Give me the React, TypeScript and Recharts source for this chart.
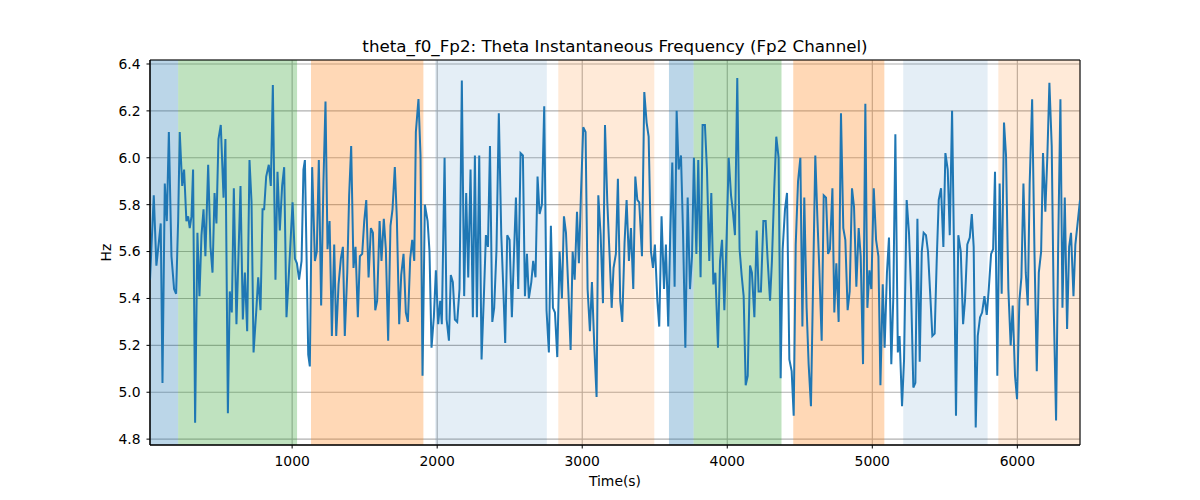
import {
  LineChart,
  Line,
  XAxis,
  YAxis,
  CartesianGrid,
  ReferenceArea,
  Label
} from "recharts";

/* ---------- DATA ---------- */

const TIME_S = [
  20, 46, 64, 81, 94, 106, 122, 136, 150, 168, 186, 200, 214, 225, 242, 255, 271, 283, 294, 306,
  317, 331, 347, 361, 375, 389, 402, 421, 437, 451, 465, 478, 492, 508, 527, 540, 557, 570, 584, 598,
  616, 644, 660, 674, 690, 706, 720, 734, 752, 766, 782, 796, 807, 821, 839, 853, 867, 885, 899, 915,
  931, 945, 961, 977, 1003, 1019, 1033, 1048, 1065, 1078, 1088, 1111, 1122, 1138, 1157, 1170, 1184, 1200, 1216, 1230,
  1244, 1258, 1274, 1290, 1304, 1320, 1336, 1350, 1363, 1380, 1393, 1407, 1423, 1437, 1453, 1467, 1483, 1497, 1511, 1527,
  1543, 1557, 1573, 1586, 1603, 1616, 1632, 1646, 1662, 1678, 1692, 1708, 1722, 1738, 1752, 1768, 1784, 1798, 1814, 1828,
  1842, 1853, 1871, 1885, 1899, 1915, 1934, 1947, 1961, 1977, 1991, 2007, 2021, 2032, 2051, 2065, 2081, 2094, 2108, 2122,
  2138, 2154, 2170, 2186, 2200, 2214, 2230, 2246, 2260, 2274, 2290, 2306, 2322, 2336, 2350, 2364, 2380, 2393, 2409, 2425,
  2442, 2456, 2469, 2483, 2499, 2515, 2529, 2543, 2559, 2575, 2591, 2605, 2619, 2632, 2649, 2662, 2678, 2692, 2706, 2722,
  2738, 2754, 2770, 2784, 2798, 2812, 2828, 2844, 2860, 2874, 2888, 2904, 2920, 2934, 2948, 2964, 2977, 2991, 3007, 3023,
  3037, 3053, 3067, 3083, 3099, 3111, 3127, 3143, 3157, 3173, 3189, 3203, 3216, 3232, 3246, 3262, 3276, 3292, 3306, 3322,
  3336, 3352, 3366, 3380, 3393, 3412, 3428, 3444, 3458, 3474, 3488, 3501, 3518, 3531, 3547, 3564, 3577, 3593, 3607, 3621,
  3637, 3651, 3665, 3681, 3695, 3711, 3727, 3743, 3757, 3770, 3787, 3800, 3816, 3830, 3846, 3860, 3876, 3890, 3904, 3918,
  3936, 3950, 3964, 3980, 3996, 4010, 4026, 4039, 4053, 4069, 4085, 4099, 4113, 4127, 4141, 4157, 4170, 4187, 4203, 4216,
  4232, 4249, 4265, 4278, 4295, 4308, 4324, 4338, 4354, 4368, 4382, 4398, 4412, 4428, 4444, 4458, 4472, 4488, 4504, 4518,
  4531, 4547, 4561, 4577, 4591, 4607, 4621, 4635, 4651, 4665, 4681, 4695, 4708, 4725, 4738, 4752, 4768, 4784, 4800, 4814,
  4830, 4844, 4860, 4874, 4890, 4906, 4920, 4936, 4952, 4966, 4980, 4993, 5010, 5026, 5042, 5056, 5072, 5085, 5101, 5115,
  5131, 5145, 5159, 5176, 5188, 5205, 5219, 5237, 5253, 5267, 5283, 5297, 5311, 5327, 5341, 5354, 5370, 5384, 5400, 5414,
  5430, 5444, 5458, 5474, 5490, 5504, 5520, 5534, 5550, 5564, 5577, 5593, 5610, 5626, 5639, 5655, 5672, 5686, 5699, 5713,
  5727, 5743, 5757, 5773, 5789, 5803, 5819, 5833, 5846, 5862, 5878, 5892, 5908, 5922, 5938, 5954, 5968, 5984, 5998, 6014,
  6028, 6042, 6058, 6072, 6085, 6102, 6118, 6134, 6148, 6164, 6177, 6193, 6207, 6221, 6237, 6251, 6267, 6281, 6297, 6311,
  6327, 6343, 6357, 6370, 6387, 6400, 6417, 6432
];

const THETA_HZ = [
  5.48, 5.84, 5.54, 5.64, 5.72, 5.04, 5.89, 5.73, 6.11, 5.58, 5.44, 5.42, 5.73, 6.11, 5.88, 5.95, 5.73, 5.75, 5.70, 5.75,
  5.95, 4.87, 5.68, 5.41, 5.67, 5.78, 5.58, 5.97, 5.62, 5.51, 5.85, 5.72, 6.08, 6.14, 5.83, 6.08, 4.91, 5.43, 5.34, 5.87,
  5.29, 5.88, 5.31, 5.51, 5.26, 5.99, 5.81, 5.17, 5.34, 5.49, 5.35, 5.78, 5.78, 5.92, 5.97, 5.88, 6.31, 5.48, 5.94, 5.69,
  5.88, 5.96, 5.32, 5.50, 5.81, 5.57, 5.55, 5.48, 5.56, 5.95, 5.99, 5.16, 5.11, 5.96, 5.56, 5.60, 5.99, 5.37, 5.90, 6.24,
  5.61, 5.73, 5.24, 5.63, 5.24, 5.46, 5.57, 5.62, 5.24, 5.51, 5.84, 6.05, 5.53, 5.62, 5.32, 5.58, 5.59, 5.73, 5.82, 5.49,
  5.70, 5.68, 5.35, 5.39, 5.73, 5.56, 5.74, 5.61, 5.22, 5.71, 5.78, 5.96, 5.74, 5.29, 5.50, 5.59, 5.34, 5.30, 5.57, 5.65,
  5.56, 6.11, 6.25, 6.01, 5.07, 5.80, 5.73, 5.60, 5.19, 5.32, 5.52, 5.29, 5.39, 5.29, 6.00, 5.31, 5.22, 5.50, 5.47, 5.31,
  5.30, 5.44, 6.33, 5.41, 5.85, 5.49, 5.95, 5.32, 6.01, 5.32, 6.01, 5.14, 5.41, 5.67, 5.62, 6.05, 5.30, 5.36, 5.61, 6.19,
  5.67, 5.44, 5.21, 5.67, 5.65, 5.32, 5.58, 5.83, 5.44, 6.02, 6.01, 5.41, 5.59, 5.40, 5.47, 5.56, 5.49, 5.92, 5.76, 5.80,
  6.22, 5.35, 5.17, 5.71, 5.36, 5.34, 5.15, 5.60, 5.40, 5.75, 5.68, 5.44, 5.18, 5.60, 5.48, 5.77, 5.55, 5.84, 6.13, 6.11,
  5.44, 5.26, 5.47, 5.20, 4.98, 5.84, 5.67, 5.38, 6.14, 5.81, 5.58, 5.36, 5.53, 5.59, 5.91, 5.39, 5.30, 5.64, 5.82, 5.56,
  5.70, 5.44, 5.92, 5.82, 5.81, 5.58, 6.28, 6.15, 6.09, 5.60, 5.53, 5.63, 5.39, 5.28, 5.75, 5.44, 5.63, 5.28, 5.68, 5.98,
  5.45, 6.20, 5.95, 6.01, 5.68, 5.19, 5.83, 5.44, 5.58, 6.00, 5.59, 5.99, 5.49, 6.14, 6.14, 5.95, 5.56, 5.85, 5.46, 5.51,
  5.19, 5.56, 5.65, 5.35, 5.67, 6.00, 5.84, 5.77, 5.67, 6.34, 5.61, 5.50, 5.41, 5.03, 5.07, 5.54, 5.51, 5.32, 5.69, 5.43,
  5.43, 5.73, 5.73, 5.57, 5.39, 5.56, 5.87, 6.09, 6.00, 5.06, 5.61, 5.78, 5.85, 5.14, 5.09, 4.90, 5.63, 5.90, 6.00, 5.28,
  5.83, 5.36, 5.12, 4.94, 5.44, 6.01, 5.75, 5.52, 5.22, 5.84, 5.83, 5.59, 5.61, 5.87, 5.34, 5.55, 5.30, 6.19, 5.70, 5.65,
  5.35, 5.43, 5.87, 5.79, 5.45, 5.70, 5.58, 5.12, 6.23, 5.36, 5.52, 5.44, 5.87, 5.65, 5.58, 5.03, 5.46, 5.19, 5.51, 5.66,
  5.12, 5.41, 6.10, 5.17, 5.24, 4.94, 5.14, 5.82, 5.68, 5.44, 5.02, 5.04, 5.74, 5.13, 5.60, 5.68, 5.67, 5.60, 5.41, 5.24,
  5.25, 5.56, 5.82, 5.87, 5.62, 6.02, 5.95, 5.67, 6.20, 5.58, 4.90, 5.67, 5.60, 5.29, 5.39, 5.63, 5.66, 5.76, 5.62, 4.85,
  5.24, 5.32, 5.34, 5.41, 5.33, 5.44, 5.59, 5.61, 5.94, 5.07, 5.89, 5.42, 6.15, 6.01, 5.44, 5.20, 5.37, 5.07, 4.97, 5.39,
  5.49, 5.89, 5.51, 5.37, 5.89, 6.25, 5.60, 5.09, 5.51, 5.60, 6.02, 5.77, 6.01, 6.32, 6.05, 5.36, 4.88, 5.60, 6.25, 5.36,
  5.83, 5.27, 5.62, 5.68, 5.41, 5.63, 5.73, 5.82
];

/* ---------- SHADED SEGMENTS ---------- */

const SPAN_START = [20, 214, 1130, 1986, 2835, 3598, 3768, 4455, 5213, 5869];
const SPAN_END = [214, 1034, 1905, 2756, 3497, 3768, 4374, 5083, 5795, 6432];
const SPAN_KIND = ["a", "b", "c", "d", "e", "a", "b", "c", "d", "e"];

const SPAN_STYLE: any = {
  a: { color: "#1f77b4", opacity: 0.3 },
  b: { color: "#2ca02c", opacity: 0.3 },
  c: { color: "#ff7f0e", opacity: 0.3 },
  d: { color: "#1f77b4", opacity: 0.12 },
  e: { color: "#ff7f0e", opacity: 0.16 }
};

/* ---------- AXES ---------- */

const X_MIN = 20;
const X_MAX = 6432;
const Y_MIN = 4.775;
const Y_MAX = 6.417;

const X_TICKS = [1000, 2000, 3000, 4000, 5000, 6000];
const Y_TICKS = [4.8, 5.0, 5.2, 5.4, 5.6, 5.8, 6.0, 6.2, 6.4];

const TITLE = "theta_f0_Fp2: Theta Instantaneous Frequency (Fp2 Channel)";

const FONT = "'DejaVu Sans', sans-serif";

export default function App() {

  const data = TIME_S.map((t, i) => ({ t, hz: THETA_HZ[i] }));

  const tickStyle = { fill: "#000", fontSize: 13.9, fontFamily: FONT };

  return (

    <div style={{ position: "absolute", left: 0, top: 0, width: 1200, height: 500, background: "#fff" }}>

      {/* TITLE */}

      <div
        style={{
          position: "absolute",
          left: 150,
          top: 36,
          width: 930,
          textAlign: "center",
          fontFamily: FONT,
          fontSize: 16.7,
          lineHeight: "20px",
          color: "#000"
        }}
      >
        {TITLE}
      </div>

      <LineChart
        width={1200}
        height={500}
        data={data}
        margin={{ top: 60, right: 120, bottom: 0, left: 0 }}
      >

        <CartesianGrid stroke="#b0b0b0" strokeWidth={1.1} />

        {SPAN_START.map((s, i) => {
          const st = SPAN_STYLE[SPAN_KIND[i]];
          return (
            <ReferenceArea
              key={i}
              x1={s}
              x2={SPAN_END[i]}
              fill={st.color}
              fillOpacity={st.opacity}
              stroke="none"
            />
          );
        })}

        <XAxis
          type="number"
          dataKey="t"
          domain={[X_MIN, X_MAX]}
          ticks={X_TICKS}
          allowDataOverflow
          height={55}
          stroke="#000"
          tickSize={3.5}
          tickMargin={8}
          tick={tickStyle}
        >
          <Label
            content={({ viewBox }: any) => (
              <text
                x={viewBox.x + viewBox.width / 2}
                y={viewBox.y + 41}
                textAnchor="middle"
                fontFamily={FONT}
                fontSize={13.9}
                fill="#000"
              >
                Time(s)
              </text>
            )}
          />
        </XAxis>

        <YAxis
          type="number"
          domain={[Y_MIN, Y_MAX]}
          ticks={Y_TICKS}
          allowDataOverflow
          width={150}
          stroke="#000"
          tickSize={3.5}
          tickMargin={6}
          tick={tickStyle}
          tickFormatter={(v: number) => v.toFixed(1)}
        >
          <Label
            content={({ viewBox }: any) => {
              const x = viewBox.x + viewBox.width - 39;
              const y = viewBox.y + viewBox.height / 2;
              return (
                <text
                  x={x}
                  y={y}
                  transform={`rotate(-90, ${x}, ${y})`}
                  textAnchor="middle"
                  fontFamily={FONT}
                  fontSize={13.9}
                  fill="#000"
                >
                  Hz
                </text>
              );
            }}
          />
        </YAxis>

        <Line
          type="linear"
          dataKey="hz"
          stroke="#1f77b4"
          strokeWidth={2}
          dot={false}
          activeDot={false}
          isAnimationActive={false}
        />

        {/* FRAME */}

        <ReferenceArea
          x1={X_MIN}
          x2={X_MAX}
          y1={Y_MIN}
          y2={Y_MAX}
          fill="none"
          stroke="#000"
          strokeWidth={1}
        />

      </LineChart>

    </div>

  );

}
